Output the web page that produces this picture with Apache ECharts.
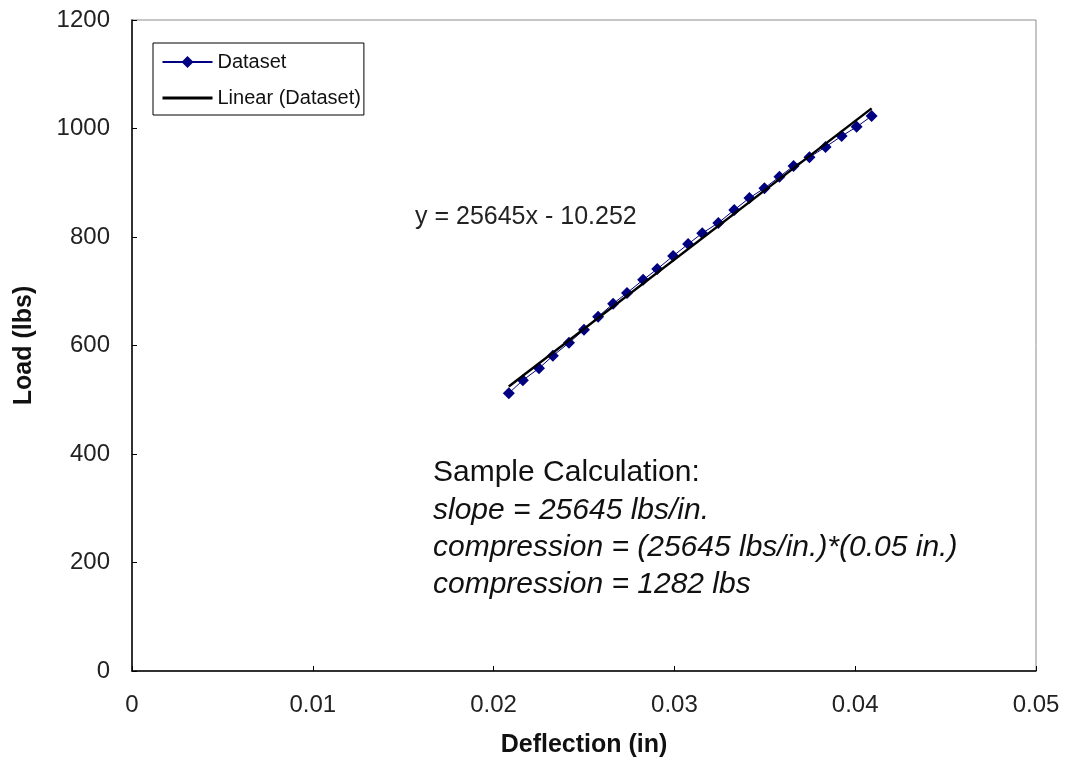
<!DOCTYPE html>
<html>
<head>
<meta charset="utf-8">
<script src="https://cdn.jsdelivr.net/npm/echarts@6/dist/echarts.min.js"></script>
<style>
html,body{margin:0;padding:0;background:#fff;}
#chart{width:1065px;height:765px;}
</style>
</head>
<body>
<div id="chart"></div>
<script>
// Data
const deflection = [0.02084,0.02162,0.02251,0.02328,0.02417,0.0250,0.02578,0.02661,0.02738,0.02827,0.02905,0.02993,0.03076,0.03154,0.03243,0.03331,0.03415,0.03498,0.03581,0.03659,0.03747,0.03836,0.03925,0.04008,0.04091];
const load = [512,536,558,581,605,629,653,677,697,721,741,765,787,807,826,850,872,890,911,931,947,966,986,1003,1023];
const equationText = 'y = 25645x - 10.252';
const sampleLines = ['Sample Calculation:', 'slope = 25645 lbs/in.', 'compression = (25645 lbs/in.)*(0.05 in.)', 'compression = 1282 lbs'];

const datasetPoints = deflection.map((x, i) => [x, load[i]]);
// Linear (least-squares) trendline of the dataset
const n = deflection.length;
const mx = deflection.reduce((a, b) => a + b, 0) / n;
const my = load.reduce((a, b) => a + b, 0) / n;
let sxy = 0, sxx = 0;
for (let i = 0; i < n; i++) { sxy += (deflection[i] - mx) * (load[i] - my); sxx += (deflection[i] - mx) ** 2; }
const fitSlope = sxy / sxx, fitIntercept = my - fitSlope * mx;
const xMin = Math.min(...deflection), xMax = Math.max(...deflection);
const trendPoints = [xMin, xMax].map(x => [x, fitSlope * x + fitIntercept]);

const FONT = 'Liberation Sans, Arial, sans-serif';
const chart = echarts.init(document.getElementById('chart'));
chart.setOption({
  backgroundColor: '#fff',
  animation: false,
  textStyle: { fontFamily: FONT },
  grid: { left: 132, right: 29, top: 20, bottom: 94, show: true, borderColor: '#8c8c8c', borderWidth: 1 },
  legend: {
    left: 153, top: 43, orient: 'vertical',
    borderColor: '#000', borderWidth: 1, borderRadius: 0,
    padding: [9, 3, 7, 8],
    itemWidth: 50, itemHeight: 15, itemGap: 16,
    textStyle: { fontSize: 20, color: '#111', fontFamily: FONT },
    data: [
      { name: 'Dataset' },
      { name: 'Linear (Dataset)', itemStyle: { opacity: 0 }, lineStyle: { width: 3, color: '#000' } }
    ]
  },
  xAxis: {
    type: 'value', min: 0, max: 0.05, interval: 0.01,
    name: 'Deflection (in)', nameLocation: 'middle', nameGap: 62,
    nameTextStyle: { fontSize: 25, fontWeight: 'bold', color: '#111', fontFamily: FONT },
    axisLine: { show: true, onZero: false, lineStyle: { color: '#000', width: 1.5 } },
    axisTick: { show: true, inside: true, length: 5, lineStyle: { color: '#000' } },
    axisLabel: { fontSize: 24, color: '#222', margin: 22, fontFamily: FONT,
      formatter: v => (v === 0 ? '0' : String(+v.toFixed(2))) },
    splitLine: { show: false }
  },
  yAxis: {
    type: 'value', min: 0, max: 1200, interval: 200,
    name: 'Load (lbs)', nameLocation: 'middle', nameGap: 95,
    nameTextStyle: { fontSize: 25, fontWeight: 'bold', color: '#111', fontFamily: FONT },
    axisLine: { show: true, onZero: false, lineStyle: { color: '#000', width: 1.5 } },
    axisTick: { show: true, inside: true, length: 5, lineStyle: { color: '#000' } },
    axisLabel: { fontSize: 24, color: '#222', margin: 22, fontFamily: FONT,
      formatter: v => String(v) },
    splitLine: { show: false }
  },
  series: [
    {
      name: 'Dataset', type: 'line', data: datasetPoints, z: 3,
      symbol: 'diamond', symbolSize: 12, showSymbol: true,
      lineStyle: { color: '#000080', width: 1 },
      itemStyle: { color: '#000080' }
    },
    {
      name: 'Linear (Dataset)', type: 'line', data: trendPoints, z: 4,
      symbol: 'none', silent: true,
      lineStyle: { color: '#000', width: 2.5 },
      itemStyle: { color: '#000' }
    }
  ],
  graphic: [
    { type: 'text', left: 415, top: 205,
      style: { text: equationText, fontSize: 25, fill: '#222', fontFamily: FONT } },
    { type: 'text', left: 433, top: 458,
      style: { text: sampleLines[0], fontSize: 30, fill: '#111', fontFamily: FONT } },
    { type: 'text', left: 433, top: 492,
      style: { text: sampleLines.slice(1).join('\n'), fontSize: 30, lineHeight: 37, fontStyle: 'italic', fill: '#111', fontFamily: FONT } }
  ]
});
</script>
</body>
</html>
